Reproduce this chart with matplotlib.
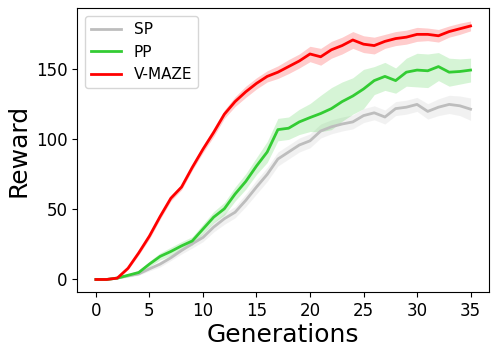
import numpy as np
import matplotlib
matplotlib.use('Agg')
import matplotlib.pyplot as plt

# generations 0..35
gens = list(range(36))

# mean rewards
sp_mean = [0, 0, 1, 2.6, 4, 7.6, 11, 15.5, 20.7, 25.5, 30, 37.4, 43.4, 48, 56.5, 66, 75, 86,
           91, 96, 99, 106, 109, 111, 112.5, 117, 119, 116, 122, 123, 125, 120, 123, 125, 124, 121.6]
pp_mean = [0, 0, 1, 3, 5, 11, 16.5, 20, 24, 27.5, 36, 44.5, 50.5, 61, 70, 81, 91, 107,
           108, 112.5, 115.6, 118.5, 122, 127, 131, 136, 142, 145, 142, 148, 149.5, 149, 152, 148, 148.5, 149.5]
vmaze_mean = [0, 0, 1, 8, 19, 31, 45, 58, 66, 80, 93, 105, 118, 127, 134, 140, 145, 148,
              152, 156, 161, 159, 164, 167, 171, 168, 167, 170, 172, 173, 175, 175, 174, 177, 179, 181]

# spread (half-width of the shaded bands)
sp_std = [0, 0, 0.5, 1, 1, 1.5, 2, 2, 2.5, 3, 3, 3.5, 4, 4, 4.5, 5, 5, 5,
          5, 5, 5, 5, 5, 5, 5, 5, 5, 5, 5, 5, 5, 5.5, 6, 6.5, 7, 8]
pp_std = [0, 0, 0.5, 1, 1.5, 2, 2.5, 3, 3, 3, 3.5, 4, 4.5, 5, 5.5, 6, 7.5, 8,
          8, 9, 10, 13, 15, 14, 13, 14, 10, 10, 9, 10, 12, 12, 10, 10, 9, 8.5]
vmaze_std = [0, 0, 0.5, 1, 1.5, 2, 2, 2, 2, 2, 2.5, 3, 3, 3.5, 4, 4, 4, 4.5,
             5, 5, 5.5, 6, 6, 6, 6, 6, 6, 5, 5, 5, 5, 4.5, 4.5, 4, 4, 3.5]

series = [
    ('SP', sp_mean, sp_std, '#bdbdbd'),
    ('PP', pp_mean, pp_std, '#33cc33'),
    ('V-MAZE', vmaze_mean, vmaze_std, 'red'),
]

fig = plt.figure(figsize=(4.98, 3.54), dpi=100)
ax = fig.add_axes([0.155, 0.174, 0.8275, 0.803])

for name, mean, std, color in series:
    m = np.array(mean)
    s = np.array(std)
    ax.plot(gens, m, label=name, color=color, linewidth=2)
    ax.fill_between(gens, m - s, m + s, color=color, alpha=0.2, linewidth=0)

ax.set_xticks([0, 5, 10, 15, 20, 25, 30, 35])
ax.set_yticks([0, 50, 100, 150])
ax.tick_params(labelsize=12)
ax.set_xlabel('Generations', fontsize=18, labelpad=2)
ax.set_ylabel('Reward', fontsize=18)
ax.legend(loc='upper left', fontsize=11)

fig.savefig('out.png', dpi=100)
